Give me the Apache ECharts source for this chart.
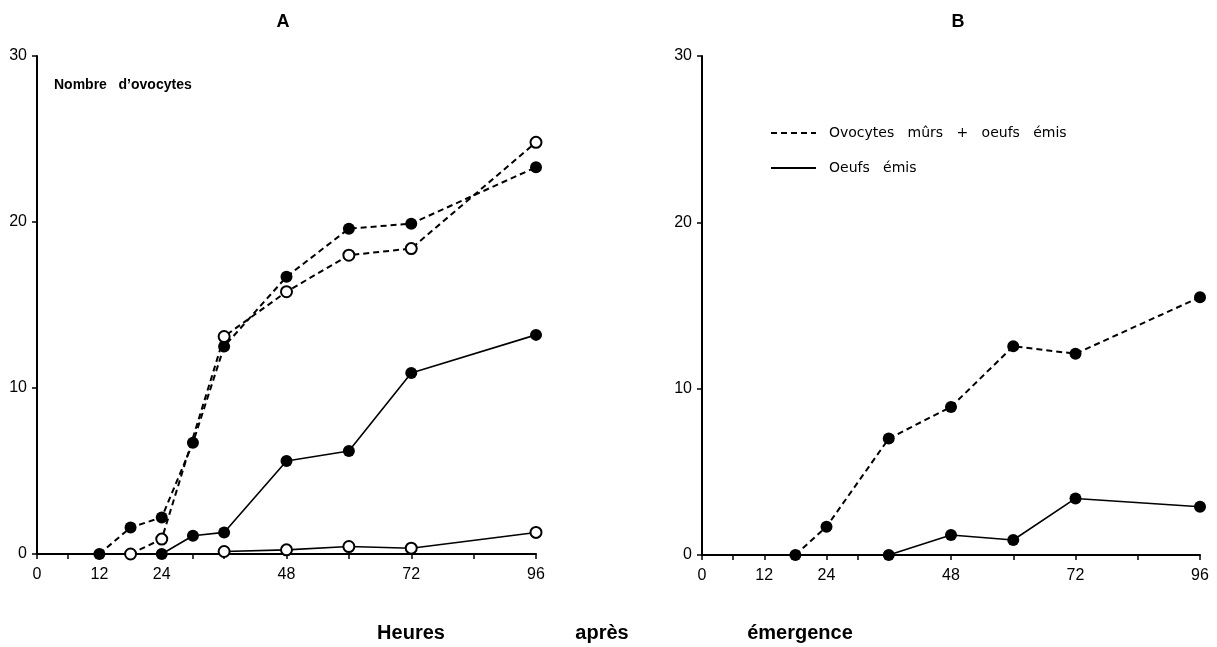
<!DOCTYPE html>
<html>
<head>
<meta charset="utf-8">
<script src="https://cdn.jsdelivr.net/npm/echarts@6/dist/echarts.min.js"></script>
<style>
  html, body { margin: 0; padding: 0; background: #fff; }
  #main { width: 1217px; height: 647px; }
</style>
</head>
<body>
<div id="main"></div>
<script>
// heures apres emergence
var tickHours = [0, 6, 12, 24, 30, 36, 48, 60, 72, 84, 96];
var labelHours = [0, 12, 24, 48, 72, 96];

// A : ovocytes murs + oeufs emis (points pleins / points vides)
var hA_totPlein = [12, 18, 24, 30, 36, 48, 60, 72, 96];
var vA_totPlein = [0, 1.6, 2.2, 6.7, 12.5, 16.7, 19.6, 19.9, 23.3];
var hA_totVide = [18, 24, 36, 48, 60, 72, 96];
var vA_totVide = [0, 0.9, 13.1, 15.8, 18.0, 18.4, 24.8];
// A : oeufs emis
var hA_oeufPlein = [24, 30, 36, 48, 60, 72, 96];
var vA_oeufPlein = [0, 1.1, 1.3, 5.6, 6.2, 10.9, 13.2];
var hA_oeufVide = [36, 48, 60, 72, 96];
var vA_oeufVide = [0.15, 0.25, 0.45, 0.35, 1.3];

// B
var hB_tot = [18, 24, 36, 48, 60, 72, 96];
var vB_tot = [0, 1.7, 7.0, 8.9, 12.55, 12.1, 15.5];
var hB_oeuf = [36, 48, 60, 72, 96];
var vB_oeuf = [0, 1.2, 0.9, 3.4, 2.9];

var nomTot = 'Ovocytes   mûrs   +   oeufs   émis';
var nomOeuf = 'Oeufs   émis';

function paires(h, v) {
    var out = [];
    for (var i = 0; i < h.length; i++) out.push([h[i], v[i]]);
    return out;
}

var police = '"Liberation Sans", Arial, sans-serif';

function axeX(idx) {
    return {
        type: 'value', gridIndex: idx, min: 0, max: 96,
        axisLine: { show: true, onZero: false, lineStyle: { color: '#000', width: 2 } },
        axisTick: { show: true, length: 5, customValues: tickHours, lineStyle: { color: '#000', width: 1.5 } },
        axisLabel: { customValues: labelHours, color: '#000', fontSize: 16, fontFamily: police, margin: 13 },
        splitLine: { show: false }
    };
}
function axeY(idx, nom) {
    return {
        type: 'value', gridIndex: idx, min: 0, max: 30, interval: 10,
        name: nom, nameLocation: 'end', nameGap: -29,
        nameTextStyle: { color: '#000', fontSize: 14, fontWeight: 'bold', fontFamily: police,
            align: 'left', verticalAlign: 'middle', padding: [0, 0, 0, 17] },
        axisLine: { show: true, lineStyle: { color: '#000', width: 2 } },
        axisTick: { show: true, length: 5, lineStyle: { color: '#000', width: 1.5 } },
        axisLabel: { color: '#000', fontSize: 16, fontFamily: police, margin: 10 },
        splitLine: { show: false }
    };
}

var tirets = { color: '#000', width: 2, type: [6, 4] };
var plein = { color: '#000', width: 1.6, type: 'solid' };

function serie(nom, idx, data, style, vide) {
    return {
        name: nom, type: 'line', xAxisIndex: idx, yAxisIndex: idx,
        data: data,
        symbol: vide ? 'emptyCircle' : 'circle',
        symbolSize: vide ? 11 : 12,
        lineStyle: style,
        itemStyle: vide ? { color: '#000', borderColor: '#000', borderWidth: 1.8 } : { color: '#000' },
        z: vide ? 3 : 2
    };
}

var myChart = echarts.init(document.getElementById('main'));
var option = {
    animation: false,
    backgroundColor: '#fff',
    grid: [
        { left: 37, right: 681, top: 56, bottom: 93 },
        { left: 702, right: 17, top: 56, bottom: 92 }
    ],
    xAxis: [axeX(0), axeX(1)],
    yAxis: [axeY(0, 'Nombre   d’ovocytes'), axeY(1, '')],
    legend: {
        data: [nomTot, nomOeuf],
        orient: 'vertical',
        left: 765, top: 121,
        itemWidth: 45, itemHeight: 14, itemGap: 21,
        itemStyle: { opacity: 0 },
        textStyle: { color: '#000', fontSize: 14, fontFamily: '"DejaVu Sans", sans-serif', padding: [0, 0, 0, 8] },
        selectedMode: false
    },
    graphic: [
        { type: 'text', x: 283, y: 22, style: { text: 'A', fontSize: 18, fontWeight: 'bold', fontFamily: police, fill: '#000', align: 'center', verticalAlign: 'middle' } },
        { type: 'text', x: 958, y: 22, style: { text: 'B', fontSize: 18, fontWeight: 'bold', fontFamily: police, fill: '#000', align: 'center', verticalAlign: 'middle' } },
        { type: 'text', x: 411, y: 633, style: { text: 'Heures', fontSize: 20, fontWeight: 'bold', fontFamily: police, fill: '#000', align: 'center', verticalAlign: 'middle' } },
        { type: 'text', x: 602, y: 633, style: { text: 'après', fontSize: 20, fontWeight: 'bold', fontFamily: police, fill: '#000', align: 'center', verticalAlign: 'middle' } },
        { type: 'text', x: 800, y: 633, style: { text: 'émergence', fontSize: 20, fontWeight: 'bold', fontFamily: police, fill: '#000', align: 'center', verticalAlign: 'middle' } }
    ],
    series: [
        serie('A-tot-plein', 0, paires(hA_totPlein, vA_totPlein), tirets, false),
        serie('A-tot-vide', 0, paires(hA_totVide, vA_totVide), tirets, true),
        serie('A-oeuf-plein', 0, paires(hA_oeufPlein, vA_oeufPlein), plein, false),
        serie('A-oeuf-vide', 0, paires(hA_oeufVide, vA_oeufVide), plein, true),
        serie(nomTot, 1, paires(hB_tot, vB_tot), tirets, false),
        serie(nomOeuf, 1, paires(hB_oeuf, vB_oeuf), plein, false)
    ]
};
myChart.setOption(option);
</script>
</body>
</html>
